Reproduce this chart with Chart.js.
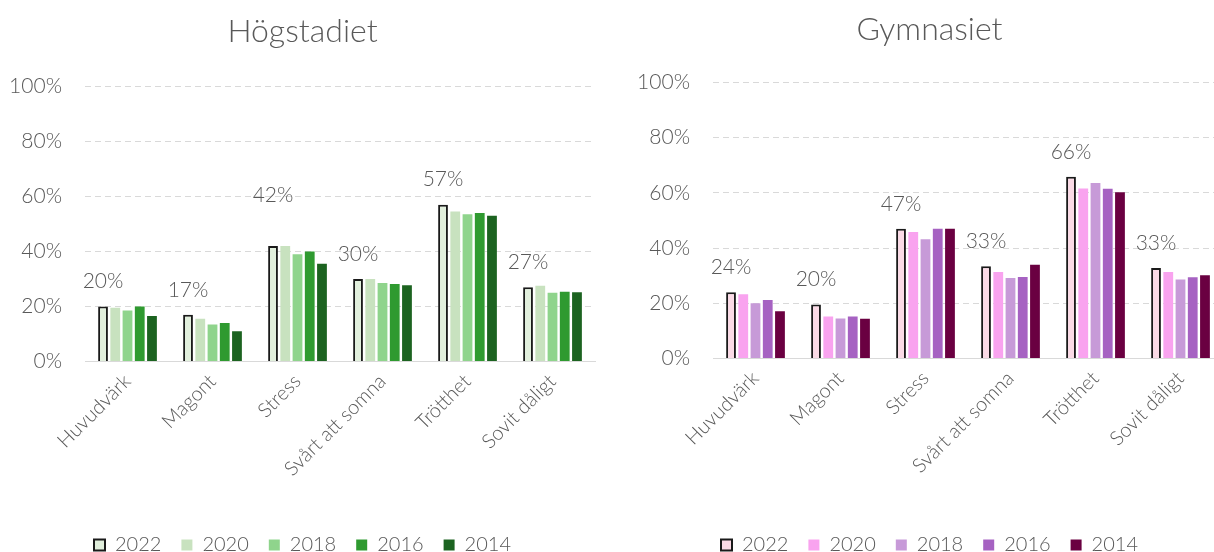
<!DOCTYPE html>
<html lang="sv">
<head>
<meta charset="utf-8">
<title>Högstadiet / Gymnasiet</title>
<script src="https://cdn.jsdelivr.net/npm/chart.js@4/dist/chart.umd.min.js"></script>
<style>
    html, body {
        margin: 0;
        padding: 0;
        background: #fff;
        overflow: hidden;
        width: 1214px;
        height: 552px;
    }
    .panel {
        position: absolute;
        top: 0;
        height: 565px;
    }
    #leftPanel { left: 0; width: 614px; }
    #rightPanel { left: 620px; width: 636px; }
</style>
</head>
<body>
<div class="panel" id="leftPanel"><canvas id="hogChart"></canvas></div>
<div class="panel" id="rightPanel"><canvas id="gymChart"></canvas></div>

<script>
// Data
const categories = ['Huvudvärk', 'Magont', 'Stress', 'Svårt att somna', 'Trötthet', 'Sovit dåligt'];
const years = ['2022', '2020', '2018', '2016', '2014'];

// Högstadiet, percent per year (same order as years)
const hog2022 = [20, 17, 42, 30, 57, 27];
const hog2020 = [19.5, 15.5, 42, 30, 54.5, 27.5];
const hog2018 = [18.5, 13.5, 39, 28.5, 53.5, 25];
const hog2016 = [20, 14, 40, 28.2, 54, 25.4];
const hog2014 = [16.5, 11, 35.5, 27.7, 53, 25.2];

// Gymnasiet
const gym2022 = [24, 19.6, 47, 33.4, 65.8, 32.8];
const gym2020 = [23.3, 15.2, 45.8, 31.3, 61.6, 31.3];
const gym2018 = [20, 14.5, 43.2, 29.2, 63.6, 28.6];
const gym2016 = [21.2, 15.2, 47, 29.5, 61.5, 29.4];
const gym2014 = [17.1, 14.4, 47, 34, 60.2, 30.2];

const yTicks = [0, 20, 40, 60, 80, 100];

const greenColors = ['#e1efdc', '#c8e2bf', '#8fd48c', '#2f9a30', '#1c6320'];
const pinkColors = ['#fbdae6', '#f9a3ef', '#c79ad8', '#a662c2', '#6a0041'];

const textColor = '#595959';
const fontFamily = 'Lato, "Open Sans", sans-serif';

// Draws the 2022 value above its bar
const labelPlugin = {
    id: 'label2022',
    afterDatasetsDraw(chart, args, opts) {
        const ctx = chart.ctx;
        const meta = chart.getDatasetMeta(0);
        ctx.save();
        ctx.fillStyle = textColor;
        ctx.font = '300 21px ' + fontFamily;
        ctx.textAlign = 'center';
        ctx.textBaseline = 'middle';
        meta.data.forEach((bar, i) => {
            const value = chart.data.datasets[0].data[i];
            const lift = (opts.extraLift && opts.extraLift[i]) || 0;
            ctx.fillText(Math.round(value) + '%', bar.x, bar.y - 25 - lift);
        });
        ctx.restore();
    }
};

function makeDatasets(series, colors) {
    return series.map((values, i) => ({
        label: years[i],
        data: values,
        backgroundColor: colors[i],
        borderColor: i === 0 ? '#1a1a1a' : colors[i],
        borderWidth: i === 0 ? 2 : 0,
        borderSkipped: 'bottom',
        categoryPercentage: 0.72,
        barPercentage: 0.8
    }));
}

function createChart(canvasId, title, series, colors, cfg) {
    return new Chart(document.getElementById(canvasId), {
        type: 'bar',
        data: {
            labels: categories,
            datasets: makeDatasets(series, colors)
        },
        options: {
            responsive: true,
            maintainAspectRatio: false,
            animation: false,
            layout: { padding: cfg.padding },
            plugins: {
                title: {
                    display: true,
                    text: title,
                    color: textColor,
                    font: { family: fontFamily, size: 32, weight: '300' },
                    padding: cfg.titlePad
                },
                legend: {
                    position: 'bottom',
                    labels: {
                        color: textColor,
                        font: { family: fontFamily, size: 20, weight: '300' },
                        boxWidth: 11,
                        boxHeight: 11,
                        padding: 20
                    }
                },
                tooltip: { enabled: false },
                label2022: { extraLift: cfg.extraLift }
            },
            scales: {
                x: {
                    grid: { display: false, drawTicks: false },
                    border: { color: '#d9d9d9', width: 1 },
                    ticks: {
                        color: textColor,
                        font: { family: fontFamily, size: 20, weight: '300' },
                        minRotation: 45,
                        maxRotation: 45,
                        padding: 8
                    },
                    afterFit: (scale) => {
                        // let the rotated first label hang out to the left like the original
                        scale.paddingLeft = 0;
                        scale.paddingRight = 0;
                        scale.height += cfg.extraX;
                    }
                },
                y: {
                    min: 0,
                    max: 100,
                    afterBuildTicks: (axis) => {
                        axis.ticks = yTicks.map(v => ({ value: v }));
                    },
                    afterFit: (scale) => {
                        scale.width = cfg.yWidth;
                    },
                    border: { display: false, dash: [6, 4] },
                    grid: {
                        color: (ctx) => ctx.tick && ctx.tick.value === 0 ? 'rgba(0,0,0,0)' : '#d9d9d9',
                        drawTicks: false
                    },
                    ticks: {
                        color: textColor,
                        font: { family: fontFamily, size: 21, weight: '300' },
                        padding: 23,
                        callback: (v) => v + '%'
                    }
                }
            }
        },
        plugins: [labelPlugin]
    });
}

createChart('hogChart', 'Högstadiet',
    [hog2022, hog2020, hog2018, hog2016, hog2014], greenColors, {
        padding: { left: 10, right: 19, top: 0, bottom: 0 },
        titlePad: { top: 12, bottom: 36 },
        yWidth: 75,
        extraX: 26,
        extraLift: [0, 0, 26, 0, 0, 0]
    });

createChart('gymChart', 'Gymnasiet',
    [gym2022, gym2020, gym2018, gym2016, gym2014], pinkColors, {
        padding: { left: 16, right: 33, top: 0, bottom: 0 },
        titlePad: { top: 10, bottom: 34 },
        yWidth: 77,
        extraX: 29,
        extraLift: [0, 0, 0, 0, 0, 0]
    });
</script>
</body>
</html>
